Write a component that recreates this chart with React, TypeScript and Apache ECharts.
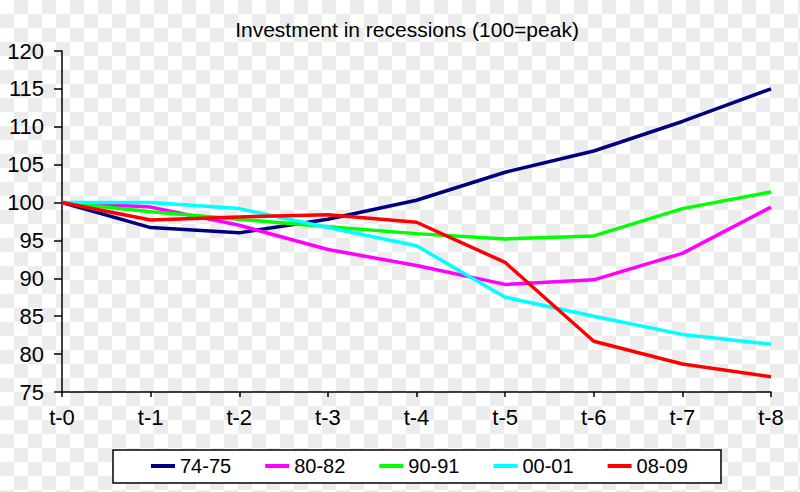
import React, { useEffect, useRef } from "react";
import * as echarts from "echarts";

const categories = ["t-0", "t-1", "t-2", "t-3", "t-4", "t-5", "t-6", "t-7", "t-8"];
const seriesNames = ["74-75", "80-82", "90-91", "00-01", "08-09"];
const s7475 = [100, 96.7, 96.0, 97.8, 100.3, 104.0, 106.8, 110.7, 115.0];
const s8082 = [100, 99.4, 97.0, 93.8, 91.7, 89.2, 89.8, 93.3, 99.4];
const s9091 = [100, 98.8, 97.8, 96.8, 95.9, 95.2, 95.6, 99.2, 101.4];
const s0001 = [100, 100.0, 99.2, 96.7, 94.3, 87.5, 85.0, 82.6, 81.3];
const s0809 = [100, 97.7, 98.1, 98.4, 97.4, 92.1, 81.7, 78.7, 77.0];
const colors = ["#000080", "#ff00ff", "#00ff00", "#00ffff", "#ff0000"];
const title = "Investment in recessions (100=peak)";

export default function App() {
  const ref = useRef<HTMLDivElement>(null);
  useEffect(() => {
    document.body.style.margin = "0";
    const chart = echarts.init(ref.current!, null, { renderer: "svg" });
    const data = [s7475, s8082, s9091, s0001, s0809];
    const font = "Arial, 'Liberation Sans', sans-serif";
    chart.setOption({
      animation: false,
      title: {
        text: title,
        left: 402,
        textAlign: "center",
        top: 14,
        textStyle: { fontFamily: font, fontSize: 21, fontWeight: "normal", color: "#000" },
      },
      grid: { left: 62, right: 29, top: 51, bottom: 100, containLabel: false },
      xAxis: {
        type: "category",
        data: categories,
        boundaryGap: false,
        axisLine: { lineStyle: { color: "#000", width: 1.5 } },
        axisTick: { show: true, length: 5, lineStyle: { color: "#000", width: 1.5 }, alignWithLabel: true },
        axisLabel: { color: "#000", fontFamily: font, fontSize: 22, margin: 14 },
        splitLine: { show: false },
      },
      yAxis: {
        type: "value",
        min: 75,
        max: 120,
        interval: 5,
        axisLine: { show: true, lineStyle: { color: "#000", width: 1.5 } },
        axisTick: { show: true, length: 8, lineStyle: { color: "#000", width: 1.5 } },
        axisLabel: { color: "#000", fontFamily: font, fontSize: 22, margin: 18 },
        splitLine: { show: false },
      },
      legend: {
        left: 146,
        top: 451,
        itemWidth: 24,
        itemHeight: 4,
        itemGap: 34,
        icon: "rect",
        data: seriesNames,
        textStyle: { fontFamily: font, fontSize: 20, color: "#000" },
      },
      graphic: [
        {
          type: "rect",
          shape: { x: 113, y: 450, width: 608, height: 33 },
          style: { fill: "#fff", stroke: "#000", lineWidth: 1.5 },
          z: -1,
        },
      ],
      series: seriesNames.map((name, i) => ({
        name,
        type: "line",
        data: data[i],
        symbol: "none",
        lineStyle: { color: colors[i], width: 3.5 },
        itemStyle: { color: colors[i] },
      })),
    });
    return () => chart.dispose();
  }, []);
  return (
    <div
      ref={ref}
      style={{
        width: 800,
        height: 492,
        background: "repeating-conic-gradient(#ececec 0% 25%, #ffffff 0% 50%) 0 0 / 28px 28px",
      }}
    />
  );
}
